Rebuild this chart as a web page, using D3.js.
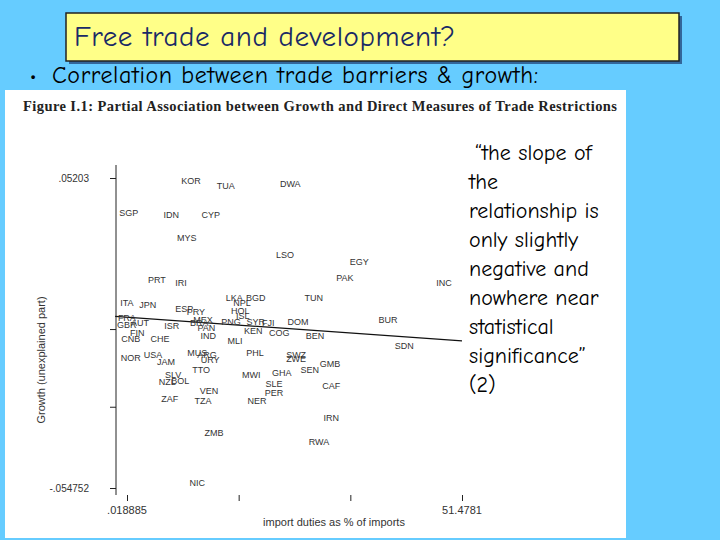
<!DOCTYPE html>
<html><head><meta charset="utf-8">
<script src="https://cdn.jsdelivr.net/npm/d3@7"></script>
<style>body{margin:0;background:#66ccff;}</style>
</head><body>
<div id="vis"></div>
<script>
// country codes, import duties (% of imports), growth (unexplained part)
const codes = ["KOR","TUA","DWA","SGP","IDN","CYP","MYS","LSO","EGY","PAK","INC","PRT","IRI","LKA","BGD","TUN",
  "ITA","JPN","ESP","PRY","NPL","HOL","ISL","FRA","GBR","AUT","FIN","ISR","BRA","MEX","PAN","IND","PNG","SYR","FJI",
  "KEN","DOM","COG","BEN","BUR","SDN","CNB","CHE","MLI","NOR","USA","JAM","MUS","ARG","TTO","URY","PHL","SWZ","ZWE",
  "GMB","SEN","SLV","NZL","BOL","MWI","GHA","SLE","PER","NER","CAF","VEN","ZAF","TZA","IRN","ZMB","RWA","NIC"];
const duties = [9.85,15.2,25.1,0.3,6.8,12.9,9.2,24.3,35.7,33.5,48.7,4.6,8.3,16.5,19.8,28.7,
  0.0,3.2,8.8,10.6,17.7,17.4,17.8,0.0,0.0,2.0,1.6,6.9,11.1,11.7,12.2,12.5,16.0,19.8,21.7,
  19.4,26.3,23.4,28.9,40.1,42.6,0.6,5.1,16.6,0.6,4.0,6.0,10.8,12.3,11.4,12.8,19.7,26.0,26.0,
  31.2,28.1,7.1,6.2,8.2,19.1,23.8,22.6,22.6,20.0,31.4,12.6,6.6,11.7,31.4,13.4,29.5,10.8];
const growth = [.0513,.0493,.0503,.0403,.0396,.0396,.0314,.0258,.0231,.0179,.0159,.0169,.0162,.0110,.0110,.0110,
  .0090,.0083,.0072,.0062,.0093,.0065,.0045,.0041,.0017,.0024,-.0011,.0013,.0024,.0034,.0007,-.0021,.0027,.0027,.0024,
  -.0004,.0027,-.0011,-.0021,.0034,-.0058,-.0034,-.0034,-.0041,-.0097,-.0086,-.0113,-.0082,-.0086,-.0138,-.0104,-.0082,-.0086,-.0100,
  -.0117,-.0141,-.0155,-.0179,-.0176,-.0158,-.0151,-.0189,-.0217,-.0245,-.0196,-.0210,-.0238,-.0245,-.0303,-.0355,-.0386,-.0530];
const fitX = [-1.8, 51.4781];
const fitY = [0.0044, -0.0041];
const xTicks = [0.018885, 17.172, 34.325, 51.4781];
const yTicks = [0.05203, 0, -0.02676, -0.054752];
const quoteLines = ["\u201Cthe slope of","the","relationship is","only slightly","negative and","nowhere near","statistical","significance\u201D","(2)"];

const width = 720, height = 540;
const svg = d3.create("svg").attr("width", width).attr("height", height);
document.querySelector("#vis").append(svg.node());
const comic = "'Comic Sans MS','Comic Neue','DejaVu Sans',sans-serif";

// slide title box
svg.append("rect").attr("x", 69).attr("y", 16).attr("width", 613).attr("height", 48).attr("fill", "#336699");
svg.append("rect").attr("x", 66).attr("y", 13).attr("width", 613).attr("height", 48)
  .attr("fill", "#ffff88").attr("stroke", "#222").attr("stroke-width", 1.5);
svg.append("text").attr("x", 74).attr("y", 46).attr("font-family", comic).attr("font-size", 29)
  .attr("textLength", 381).attr("fill", "#1a2a66").text("Free trade and development?");
svg.append("text").attr("x", 30).attr("y", 82).attr("font-family", comic).attr("font-size", 20)
  .attr("fill", "#000").text("\u2022");
svg.append("text").attr("x", 52).attr("y", 83).attr("font-family", comic).attr("font-size", 24)
  .attr("textLength", 486).attr("fill", "#000").text("Correlation between trade barriers & growth:");

// white figure panel
svg.append("rect").attr("x", 5).attr("y", 90).attr("width", 621).attr("height", 448).attr("fill", "#fff");
svg.append("text").attr("x", 23).attr("y", 111).attr("font-family", "'Liberation Serif',serif")
  .attr("font-size", 14.5).attr("font-weight", "bold").attr("fill", "#222").attr("textLength", 594)
  .text("Figure I.1: Partial Association between Growth and Direct Measures of Trade Restrictions");

const xScale = d3.scaleLinear().domain([0.018885, 51.4781]).range([127, 462]);
const yScale = d3.scaleLinear().domain([0.05203, -0.054752]).range([178, 488]);

const yAx = svg.append("g").attr("transform", "translate(116,0)")
  .call(d3.axisLeft(yScale).tickValues(yTicks).tickSize(6).tickFormat(""));
yAx.select(".domain").attr("d", "M0,165V495").attr("stroke", "#222");
yAx.selectAll("line").attr("stroke", "#222");
const xAx = svg.append("g").attr("transform", "translate(0,495)")
  .call(d3.axisBottom(xScale).tickValues(xTicks).tickSize(6).tickFormat(""));
xAx.select(".domain").remove();
xAx.selectAll("line").attr("stroke", "#222");

const sm = { "font-family": "'Liberation Sans',Arial,sans-serif", "font-size": 10, fill: "#333" };
function lbl(x, y, t, anchor) {
  const e = svg.append("text").attr("x", x).attr("y", y).attr("text-anchor", anchor || "start").text(t);
  for (const k in sm) e.attr(k, sm[k]);
  return e;
}
lbl(89, yScale(0.05203) + 4, ".05203", "end");
lbl(89, yScale(-0.054752) + 4, "-.054752", "end");
lbl(xScale(0.018885), 514, ".018885", "middle").attr("font-size", 11);
lbl(xScale(51.4781), 514, "51.4781", "middle").attr("font-size", 11);
lbl(334, 526, "import duties as % of imports", "middle").attr("font-size", 11);
lbl(0, 0, "Growth (unexplained part)", "middle").attr("font-size", 11)
  .attr("transform", "translate(45,360) rotate(-90)");

// fitted line
svg.append("line").attr("x1", xScale(fitX[0])).attr("y1", yScale(fitY[0]))
  .attr("x2", xScale(fitX[1])).attr("y2", yScale(fitY[1])).attr("stroke", "#111").attr("stroke-width", 1.3);

// points as country labels
svg.append("g").selectAll("text").data(codes).join("text")
  .attr("x", (d, i) => xScale(duties[i])).attr("y", (d, i) => yScale(growth[i]) + 3.5)
  .attr("text-anchor", "middle").attr("font-family", sm["font-family"]).attr("font-size", 9)
  .attr("fill", "#333").text(d => d);

// quote
svg.append("g").selectAll("text").data(quoteLines).join("text")
  .attr("x", (d, i) => i === 0 ? 475 : 469).attr("y", (d, i) => 160 + i * 29)
  .attr("font-family", comic).attr("font-size", 22).attr("fill", "#000").text(d => d);
</script>
</body></html>
